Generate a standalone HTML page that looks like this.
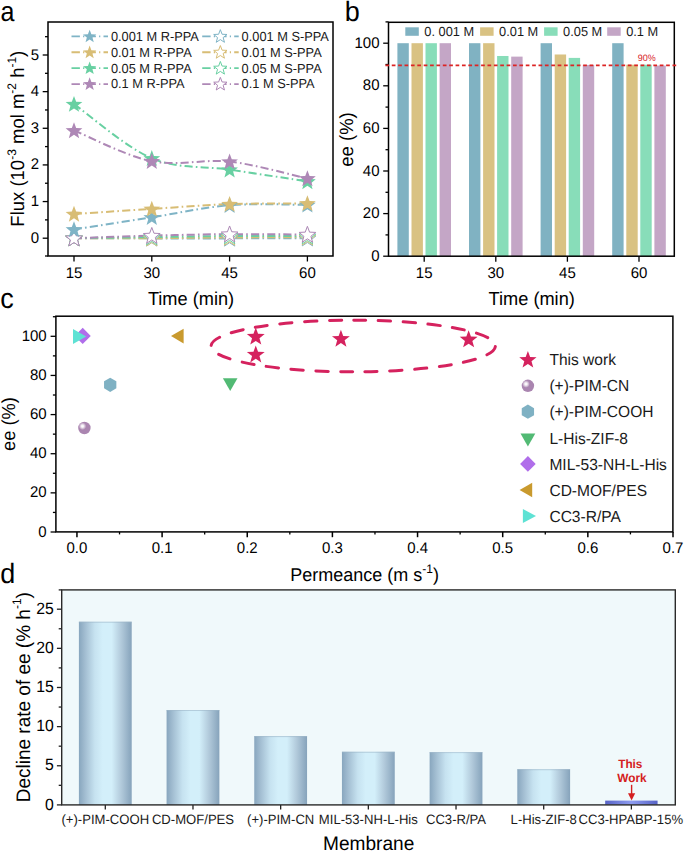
<!DOCTYPE html>
<html><head><meta charset="utf-8"><style>
html,body{margin:0;padding:0;background:#fff;overflow:hidden;}
svg{display:block;font-family:"Liberation Sans", sans-serif;}
text{text-rendering:geometricPrecision;}
</style></head><body>
<svg width="685" height="852" viewBox="0 0 685 852">
<defs>
<radialGradient id="hl" cx="0.5" cy="0.5" r="0.5"><stop offset="0" stop-color="#fff"/><stop offset="0.3" stop-color="#fff" stop-opacity="0.9"/><stop offset="1" stop-color="#fff" stop-opacity="0"/></radialGradient>
<radialGradient id="sph" cx="0.38" cy="0.33" r="0.7" fx="0.35" fy="0.3">
<stop offset="0" stop-color="#ffffff"/><stop offset="0.25" stop-color="#d4bfd8"/><stop offset="0.6" stop-color="#a885b0"/><stop offset="1" stop-color="#8a6a94"/></radialGradient>
<linearGradient id="barg" x1="0" y1="0" x2="1" y2="0">
<stop offset="0" stop-color="#88A6BE"/><stop offset="0.12" stop-color="#A3BED2"/><stop offset="0.3" stop-color="#C6E2F0"/><stop offset="0.45" stop-color="#D3EFFA"/><stop offset="0.62" stop-color="#D3EFFA"/><stop offset="0.8" stop-color="#B2CADB"/><stop offset="1" stop-color="#86A3BB"/></linearGradient>
<linearGradient id="barb" x1="0" y1="0" x2="1" y2="0">
<stop offset="0" stop-color="#5763C6"/><stop offset="0.5" stop-color="#8E9CF0"/><stop offset="1" stop-color="#5763C6"/></linearGradient>
</defs>
<rect width="685" height="852" fill="#fff"/>
<text transform="translate(0.40,21.10) scale(0.93,1.04)" font-size="27" text-anchor="start" fill="#000" >a</text>
<text transform="translate(344.70,21.10) scale(1.0,1.04)" font-size="27" text-anchor="start" fill="#000" >b</text>
<text transform="translate(0.20,308.20) scale(1.0,1.05)" font-size="27" text-anchor="start" fill="#000" >c</text>
<text transform="translate(0.20,583.40) scale(1.0,1.04)" font-size="27" text-anchor="start" fill="#000" >d</text>
<line x1="42.70" y1="238.20" x2="48.00" y2="238.20" stroke="#000" stroke-width="1.3" />
<text transform="translate(39.00,242.70) scale(1.0,1.03)" font-size="15" text-anchor="end" fill="#000" >0</text>
<line x1="42.70" y1="201.56" x2="48.00" y2="201.56" stroke="#000" stroke-width="1.3" />
<text transform="translate(39.00,206.06) scale(1.0,1.03)" font-size="15" text-anchor="end" fill="#000" >1</text>
<line x1="42.70" y1="164.92" x2="48.00" y2="164.92" stroke="#000" stroke-width="1.3" />
<text transform="translate(39.00,169.42) scale(1.0,1.03)" font-size="15" text-anchor="end" fill="#000" >2</text>
<line x1="42.70" y1="128.28" x2="48.00" y2="128.28" stroke="#000" stroke-width="1.3" />
<text transform="translate(39.00,132.78) scale(1.0,1.03)" font-size="15" text-anchor="end" fill="#000" >3</text>
<line x1="42.70" y1="91.64" x2="48.00" y2="91.64" stroke="#000" stroke-width="1.3" />
<text transform="translate(39.00,96.14) scale(1.0,1.03)" font-size="15" text-anchor="end" fill="#000" >4</text>
<line x1="42.70" y1="55.00" x2="48.00" y2="55.00" stroke="#000" stroke-width="1.3" />
<text transform="translate(39.00,59.50) scale(1.0,1.03)" font-size="15" text-anchor="end" fill="#000" >5</text>
<line x1="45.00" y1="256.00" x2="48.00" y2="256.00" stroke="#000" stroke-width="1.3" />
<line x1="45.00" y1="219.88" x2="48.00" y2="219.88" stroke="#000" stroke-width="1.3" />
<line x1="45.00" y1="183.24" x2="48.00" y2="183.24" stroke="#000" stroke-width="1.3" />
<line x1="45.00" y1="146.60" x2="48.00" y2="146.60" stroke="#000" stroke-width="1.3" />
<line x1="45.00" y1="109.96" x2="48.00" y2="109.96" stroke="#000" stroke-width="1.3" />
<line x1="45.00" y1="73.32" x2="48.00" y2="73.32" stroke="#000" stroke-width="1.3" />
<line x1="45.00" y1="36.68" x2="48.00" y2="36.68" stroke="#000" stroke-width="1.3" />
<line x1="74.00" y1="256.00" x2="74.00" y2="261.50" stroke="#000" stroke-width="1.3" />
<text transform="translate(74.00,277.50) scale(1.0,1.03)" font-size="15" text-anchor="middle" fill="#000" >15</text>
<line x1="151.80" y1="256.00" x2="151.80" y2="261.50" stroke="#000" stroke-width="1.3" />
<text transform="translate(151.80,277.50) scale(1.0,1.03)" font-size="15" text-anchor="middle" fill="#000" >30</text>
<line x1="229.60" y1="256.00" x2="229.60" y2="261.50" stroke="#000" stroke-width="1.3" />
<text transform="translate(229.60,277.50) scale(1.0,1.03)" font-size="15" text-anchor="middle" fill="#000" >45</text>
<line x1="307.40" y1="256.00" x2="307.40" y2="261.50" stroke="#000" stroke-width="1.3" />
<text transform="translate(307.40,277.50) scale(1.0,1.03)" font-size="15" text-anchor="middle" fill="#000" >60</text>
<path d="M74.00,238.20 C86.97,238.23 125.87,238.35 151.80,238.38 C177.73,238.41 203.67,238.41 229.60,238.38 C255.53,238.35 294.43,238.23 307.40,238.20" fill="none" stroke="#7FB4C6" stroke-width="2" stroke-dasharray="8.1 3.2 1.6 3.2"/>
<path d="M74.00,238.20 C86.97,238.20 125.87,238.32 151.80,238.20 C177.73,238.08 203.67,237.62 229.60,237.47 C255.53,237.31 294.43,237.31 307.40,237.28" fill="none" stroke="#D8BD75" stroke-width="2" stroke-dasharray="8.1 3.2 1.6 3.2"/>
<path d="M74.00,238.20 C86.97,238.02 125.87,237.47 151.80,237.10 C177.73,236.73 203.67,236.15 229.60,236.00 C255.53,235.85 294.43,236.15 307.40,236.18" fill="none" stroke="#68D0A2" stroke-width="2" stroke-dasharray="8.1 3.2 1.6 3.2"/>
<path d="M74.00,238.20 C86.97,237.77 125.87,236.31 151.80,235.64 C177.73,234.96 203.67,234.35 229.60,234.17 C255.53,233.99 294.43,234.47 307.40,234.54" fill="none" stroke="#AE88B6" stroke-width="2" stroke-dasharray="8.1 3.2 1.6 3.2"/>
<path d="M74.00,229.41 C86.97,227.39 125.87,221.35 151.80,217.32 C177.73,213.28 203.67,207.30 229.60,205.22 C255.53,203.15 294.43,204.92 307.40,204.86" fill="none" stroke="#7FB4C6" stroke-width="2" stroke-dasharray="8.1 3.2 1.6 3.2"/>
<path d="M74.00,214.02 C86.97,213.16 125.87,210.54 151.80,208.89 C177.73,207.24 203.67,205.04 229.60,204.12 C255.53,203.21 294.43,203.51 307.40,203.39" fill="none" stroke="#D8BD75" stroke-width="2" stroke-dasharray="8.1 3.2 1.6 3.2"/>
<path d="M74.00,104.10 C86.97,113.14 125.87,147.39 151.80,158.32 C177.73,169.26 203.67,165.84 229.60,169.68 C255.53,173.53 294.43,179.45 307.40,181.41" fill="none" stroke="#68D0A2" stroke-width="2" stroke-dasharray="8.1 3.2 1.6 3.2"/>
<path d="M74.00,130.48 C86.97,135.61 125.87,156.07 151.80,161.26 C177.73,166.45 203.67,158.75 229.60,161.62 C255.53,164.49 294.43,175.67 307.40,178.48" fill="none" stroke="#AE88B6" stroke-width="2" stroke-dasharray="8.1 3.2 1.6 3.2"/>
<polygon points="74.00,230.00 76.17,235.81 82.37,236.08 77.52,239.94 79.17,245.92 74.00,242.50 68.83,245.92 70.48,239.94 65.63,236.08 71.83,235.81" fill="#fff" stroke="#7FB4C6" stroke-width="1"/>
<polygon points="151.80,230.18 153.97,235.99 160.17,236.26 155.32,240.13 156.97,246.10 151.80,242.68 146.63,246.10 148.28,240.13 143.43,236.26 149.63,235.99" fill="#fff" stroke="#7FB4C6" stroke-width="1"/>
<polygon points="229.60,230.18 231.77,235.99 237.97,236.26 233.12,240.13 234.77,246.10 229.60,242.68 224.43,246.10 226.08,240.13 221.23,236.26 227.43,235.99" fill="#fff" stroke="#7FB4C6" stroke-width="1"/>
<polygon points="307.40,230.00 309.57,235.81 315.77,236.08 310.92,239.94 312.57,245.92 307.40,242.50 302.23,245.92 303.88,239.94 299.03,236.08 305.23,235.81" fill="#fff" stroke="#7FB4C6" stroke-width="1"/>
<polygon points="74.00,230.00 76.17,235.81 82.37,236.08 77.52,239.94 79.17,245.92 74.00,242.50 68.83,245.92 70.48,239.94 65.63,236.08 71.83,235.81" fill="#fff" stroke="#D8BD75" stroke-width="1"/>
<polygon points="151.80,230.00 153.97,235.81 160.17,236.08 155.32,239.94 156.97,245.92 151.80,242.50 146.63,245.92 148.28,239.94 143.43,236.08 149.63,235.81" fill="#fff" stroke="#D8BD75" stroke-width="1"/>
<polygon points="229.60,229.27 231.77,235.07 237.97,235.35 233.12,239.21 234.77,245.19 229.60,241.77 224.43,245.19 226.08,239.21 221.23,235.35 227.43,235.07" fill="#fff" stroke="#D8BD75" stroke-width="1"/>
<polygon points="307.40,229.08 309.57,234.89 315.77,235.16 310.92,239.03 312.57,245.00 307.40,241.58 302.23,245.00 303.88,239.03 299.03,235.16 305.23,234.89" fill="#fff" stroke="#D8BD75" stroke-width="1"/>
<polygon points="74.00,230.00 76.17,235.81 82.37,236.08 77.52,239.94 79.17,245.92 74.00,242.50 68.83,245.92 70.48,239.94 65.63,236.08 71.83,235.81" fill="#fff" stroke="#68D0A2" stroke-width="1"/>
<polygon points="151.80,228.90 153.97,234.71 160.17,234.98 155.32,238.84 156.97,244.82 151.80,241.40 146.63,244.82 148.28,238.84 143.43,234.98 149.63,234.71" fill="#fff" stroke="#68D0A2" stroke-width="1"/>
<polygon points="229.60,227.80 231.77,233.61 237.97,233.88 233.12,237.74 234.77,243.72 229.60,240.30 224.43,243.72 226.08,237.74 221.23,233.88 227.43,233.61" fill="#fff" stroke="#68D0A2" stroke-width="1"/>
<polygon points="307.40,227.98 309.57,233.79 315.77,234.07 310.92,237.93 312.57,243.90 307.40,240.48 302.23,243.90 303.88,237.93 299.03,234.07 305.23,233.79" fill="#fff" stroke="#68D0A2" stroke-width="1"/>
<polygon points="74.00,230.00 76.17,235.81 82.37,236.08 77.52,239.94 79.17,245.92 74.00,242.50 68.83,245.92 70.48,239.94 65.63,236.08 71.83,235.81" fill="#fff" stroke="#AE88B6" stroke-width="1"/>
<polygon points="151.80,227.44 153.97,233.24 160.17,233.52 155.32,237.38 156.97,243.35 151.80,239.94 146.63,243.35 148.28,237.38 143.43,233.52 149.63,233.24" fill="#fff" stroke="#AE88B6" stroke-width="1"/>
<polygon points="229.60,225.97 231.77,231.78 237.97,232.05 233.12,235.91 234.77,241.89 229.60,238.47 224.43,241.89 226.08,235.91 221.23,232.05 227.43,231.78" fill="#fff" stroke="#AE88B6" stroke-width="1"/>
<polygon points="307.40,226.34 309.57,232.14 315.77,232.42 310.92,236.28 312.57,242.26 307.40,238.84 302.23,242.26 303.88,236.28 299.03,232.42 305.23,232.14" fill="#fff" stroke="#AE88B6" stroke-width="1"/>
<polygon points="74.00,221.21 76.17,227.01 82.37,227.29 77.52,231.15 79.17,237.13 74.00,233.71 68.83,237.13 70.48,231.15 65.63,227.29 71.83,227.01" fill="#7FB4C6"/>
<polygon points="151.80,209.12 153.97,214.92 160.17,215.20 155.32,219.06 156.97,225.03 151.80,221.62 146.63,225.03 148.28,219.06 143.43,215.20 149.63,214.92" fill="#7FB4C6"/>
<polygon points="229.60,197.02 231.77,202.83 237.97,203.10 233.12,206.97 234.77,212.94 229.60,209.52 224.43,212.94 226.08,206.97 221.23,203.10 227.43,202.83" fill="#7FB4C6"/>
<polygon points="307.40,196.66 309.57,202.46 315.77,202.74 310.92,206.60 312.57,212.58 307.40,209.16 302.23,212.58 303.88,206.60 299.03,202.74 305.23,202.46" fill="#7FB4C6"/>
<polygon points="74.00,205.82 76.17,211.62 82.37,211.90 77.52,215.76 79.17,221.74 74.00,218.32 68.83,221.74 70.48,215.76 65.63,211.90 71.83,211.62" fill="#D8BD75"/>
<polygon points="151.80,200.69 153.97,206.49 160.17,206.77 155.32,210.63 156.97,216.61 151.80,213.19 146.63,216.61 148.28,210.63 143.43,206.77 149.63,206.49" fill="#D8BD75"/>
<polygon points="229.60,195.92 231.77,201.73 237.97,202.01 233.12,205.87 234.77,211.84 229.60,208.42 224.43,211.84 226.08,205.87 221.23,202.01 227.43,201.73" fill="#D8BD75"/>
<polygon points="307.40,195.19 309.57,201.00 315.77,201.27 310.92,205.14 312.57,211.11 307.40,207.69 302.23,211.11 303.88,205.14 299.03,201.27 305.23,201.00" fill="#D8BD75"/>
<polygon points="74.00,95.90 76.17,101.70 82.37,101.98 77.52,105.84 79.17,111.82 74.00,108.40 68.83,111.82 70.48,105.84 65.63,101.98 71.83,101.70" fill="#68D0A2"/>
<polygon points="151.80,150.12 153.97,155.93 160.17,156.21 155.32,160.07 156.97,166.04 151.80,162.62 146.63,166.04 148.28,160.07 143.43,156.21 149.63,155.93" fill="#68D0A2"/>
<polygon points="229.60,161.48 231.77,167.29 237.97,167.56 233.12,171.43 234.77,177.40 229.60,173.98 224.43,177.40 226.08,171.43 221.23,167.56 227.43,167.29" fill="#68D0A2"/>
<polygon points="307.40,173.21 309.57,179.01 315.77,179.29 310.92,183.15 312.57,189.13 307.40,185.71 302.23,189.13 303.88,183.15 299.03,179.29 305.23,179.01" fill="#68D0A2"/>
<polygon points="74.00,122.28 76.17,128.09 82.37,128.36 77.52,132.22 79.17,138.20 74.00,134.78 68.83,138.20 70.48,132.22 65.63,128.36 71.83,128.09" fill="#AE88B6"/>
<polygon points="151.80,153.06 153.97,158.86 160.17,159.14 155.32,163.00 156.97,168.98 151.80,165.56 146.63,168.98 148.28,163.00 143.43,159.14 149.63,158.86" fill="#AE88B6"/>
<polygon points="229.60,153.42 231.77,159.23 237.97,159.50 233.12,163.37 234.77,169.34 229.60,165.92 224.43,169.34 226.08,163.37 221.23,159.50 227.43,159.23" fill="#AE88B6"/>
<polygon points="307.40,170.28 309.57,176.08 315.77,176.36 310.92,180.22 312.57,186.20 307.40,182.78 302.23,186.20 303.88,180.22 299.03,176.36 305.23,176.08" fill="#AE88B6"/>
<line x1="71.50" y1="36.35" x2="108.00" y2="36.35" stroke="#7FB4C6" stroke-width="1.8" stroke-dasharray="8.4 3.2 1.2 3.2"/>
<polygon points="89.65,29.65 91.38,34.26 96.31,34.49 92.46,37.56 93.76,42.31 89.65,39.60 85.54,42.31 86.84,37.56 82.99,34.49 87.92,34.26" fill="#7FB4C6"/>
<text transform="translate(110.90,40.70) scale(1.0,1.03)" font-size="12.8" text-anchor="start" fill="#1a1a1a" >0.001 M R-PPA</text>
<line x1="202.20" y1="36.35" x2="238.70" y2="36.35" stroke="#7FB4C6" stroke-width="1.8" stroke-dasharray="8.4 3.2 1.2 3.2"/>
<polygon points="220.35,29.65 222.08,34.26 227.01,34.49 223.16,37.56 224.46,42.31 220.35,39.60 216.24,42.31 217.54,37.56 213.69,34.49 218.62,34.26" fill="#fff" stroke="#7FB4C6" stroke-width="1"/>
<text transform="translate(241.60,40.70) scale(1.0,1.03)" font-size="12.8" text-anchor="start" fill="#1a1a1a" >0.001 M S-PPA</text>
<line x1="71.50" y1="52.25" x2="108.00" y2="52.25" stroke="#D8BD75" stroke-width="1.8" stroke-dasharray="8.4 3.2 1.2 3.2"/>
<polygon points="89.65,45.55 91.38,50.16 96.31,50.39 92.46,53.46 93.76,58.21 89.65,55.50 85.54,58.21 86.84,53.46 82.99,50.39 87.92,50.16" fill="#D8BD75"/>
<text transform="translate(110.90,56.60) scale(1.0,1.03)" font-size="12.8" text-anchor="start" fill="#1a1a1a" >0.01 M R-PPA</text>
<line x1="202.20" y1="52.25" x2="238.70" y2="52.25" stroke="#D8BD75" stroke-width="1.8" stroke-dasharray="8.4 3.2 1.2 3.2"/>
<polygon points="220.35,45.55 222.08,50.16 227.01,50.39 223.16,53.46 224.46,58.21 220.35,55.50 216.24,58.21 217.54,53.46 213.69,50.39 218.62,50.16" fill="#fff" stroke="#D8BD75" stroke-width="1"/>
<text transform="translate(241.60,56.60) scale(1.0,1.03)" font-size="12.8" text-anchor="start" fill="#1a1a1a" >0.01 M S-PPA</text>
<line x1="71.50" y1="68.15" x2="108.00" y2="68.15" stroke="#68D0A2" stroke-width="1.8" stroke-dasharray="8.4 3.2 1.2 3.2"/>
<polygon points="89.65,61.45 91.38,66.06 96.31,66.29 92.46,69.36 93.76,74.11 89.65,71.40 85.54,74.11 86.84,69.36 82.99,66.29 87.92,66.06" fill="#68D0A2"/>
<text transform="translate(110.90,72.50) scale(1.0,1.03)" font-size="12.8" text-anchor="start" fill="#1a1a1a" >0.05 M R-PPA</text>
<line x1="202.20" y1="68.15" x2="238.70" y2="68.15" stroke="#68D0A2" stroke-width="1.8" stroke-dasharray="8.4 3.2 1.2 3.2"/>
<polygon points="220.35,61.45 222.08,66.06 227.01,66.29 223.16,69.36 224.46,74.11 220.35,71.40 216.24,74.11 217.54,69.36 213.69,66.29 218.62,66.06" fill="#fff" stroke="#68D0A2" stroke-width="1"/>
<text transform="translate(241.60,72.50) scale(1.0,1.03)" font-size="12.8" text-anchor="start" fill="#1a1a1a" >0.05 M S-PPA</text>
<line x1="71.50" y1="84.05" x2="108.00" y2="84.05" stroke="#AE88B6" stroke-width="1.8" stroke-dasharray="8.4 3.2 1.2 3.2"/>
<polygon points="89.65,77.35 91.38,81.96 96.31,82.19 92.46,85.26 93.76,90.01 89.65,87.30 85.54,90.01 86.84,85.26 82.99,82.19 87.92,81.96" fill="#AE88B6"/>
<text transform="translate(110.90,88.40) scale(1.0,1.03)" font-size="12.8" text-anchor="start" fill="#1a1a1a" >0.1 M R-PPA</text>
<line x1="202.20" y1="84.05" x2="238.70" y2="84.05" stroke="#AE88B6" stroke-width="1.8" stroke-dasharray="8.4 3.2 1.2 3.2"/>
<polygon points="220.35,77.35 222.08,81.96 227.01,82.19 223.16,85.26 224.46,90.01 220.35,87.30 216.24,90.01 217.54,85.26 213.69,82.19 218.62,81.96" fill="#fff" stroke="#AE88B6" stroke-width="1"/>
<text transform="translate(241.60,88.40) scale(1.0,1.03)" font-size="12.8" text-anchor="start" fill="#1a1a1a" >0.1 M S-PPA</text>
<rect x="48" y="22" width="285" height="234" fill="none" stroke="#000" stroke-width="1.5"/>
<text transform="translate(191.00,305.00) scale(1.0,1.03)" font-size="18.2" text-anchor="middle" fill="#000" >Time (min)</text>
<text transform="translate(24.4,138.7) rotate(-90) scale(1,1.03)" font-size="18.5" text-anchor="middle">Flux (10<tspan dy="-7.8" font-size="12">-3</tspan><tspan dy="7.8"> mol m</tspan><tspan dy="-7.8" font-size="12">-2</tspan><tspan dy="7.8"> h</tspan><tspan dy="-7.8" font-size="12">-1</tspan><tspan dy="7.8">)</tspan></text>
<rect x="397.40" y="43.20" width="11.4" height="213.00" fill="#80B2C2"/>
<rect x="411.50" y="43.20" width="11.4" height="213.00" fill="#D9C283"/>
<rect x="425.50" y="43.20" width="11.4" height="213.00" fill="#88DDB9"/>
<rect x="439.60" y="43.20" width="11.4" height="213.00" fill="#C4A6C6"/>
<rect x="469.00" y="43.20" width="11.4" height="213.00" fill="#80B2C2"/>
<rect x="483.10" y="43.20" width="11.4" height="213.00" fill="#D9C283"/>
<rect x="497.10" y="55.98" width="11.4" height="200.22" fill="#88DDB9"/>
<rect x="511.20" y="56.62" width="11.4" height="199.58" fill="#C4A6C6"/>
<rect x="540.60" y="43.20" width="11.4" height="213.00" fill="#80B2C2"/>
<rect x="554.70" y="54.49" width="11.4" height="201.71" fill="#D9C283"/>
<rect x="568.70" y="57.90" width="11.4" height="198.30" fill="#88DDB9"/>
<rect x="582.80" y="64.93" width="11.4" height="191.27" fill="#C4A6C6"/>
<rect x="612.20" y="43.20" width="11.4" height="213.00" fill="#80B2C2"/>
<rect x="626.30" y="64.71" width="11.4" height="191.49" fill="#D9C283"/>
<rect x="640.30" y="64.71" width="11.4" height="191.49" fill="#88DDB9"/>
<rect x="654.40" y="65.56" width="11.4" height="190.63" fill="#C4A6C6"/>
<line x1="383.20" y1="256.20" x2="388.50" y2="256.20" stroke="#000" stroke-width="1.3" />
<text transform="translate(379.50,260.70) scale(1.0,1.03)" font-size="15" text-anchor="end" fill="#000" >0</text>
<line x1="383.20" y1="213.60" x2="388.50" y2="213.60" stroke="#000" stroke-width="1.3" />
<text transform="translate(379.50,218.10) scale(1.0,1.03)" font-size="15" text-anchor="end" fill="#000" >20</text>
<line x1="383.20" y1="171.00" x2="388.50" y2="171.00" stroke="#000" stroke-width="1.3" />
<text transform="translate(379.50,175.50) scale(1.0,1.03)" font-size="15" text-anchor="end" fill="#000" >40</text>
<line x1="383.20" y1="128.40" x2="388.50" y2="128.40" stroke="#000" stroke-width="1.3" />
<text transform="translate(379.50,132.90) scale(1.0,1.03)" font-size="15" text-anchor="end" fill="#000" >60</text>
<line x1="383.20" y1="85.80" x2="388.50" y2="85.80" stroke="#000" stroke-width="1.3" />
<text transform="translate(379.50,90.30) scale(1.0,1.03)" font-size="15" text-anchor="end" fill="#000" >80</text>
<line x1="383.20" y1="43.20" x2="388.50" y2="43.20" stroke="#000" stroke-width="1.3" />
<text transform="translate(379.50,47.70) scale(1.0,1.03)" font-size="15" text-anchor="end" fill="#000" >100</text>
<line x1="385.50" y1="234.90" x2="388.50" y2="234.90" stroke="#000" stroke-width="1.3" />
<line x1="385.50" y1="192.30" x2="388.50" y2="192.30" stroke="#000" stroke-width="1.3" />
<line x1="385.50" y1="149.70" x2="388.50" y2="149.70" stroke="#000" stroke-width="1.3" />
<line x1="385.50" y1="107.10" x2="388.50" y2="107.10" stroke="#000" stroke-width="1.3" />
<line x1="385.50" y1="64.50" x2="388.50" y2="64.50" stroke="#000" stroke-width="1.3" />
<line x1="385.50" y1="21.90" x2="388.50" y2="21.90" stroke="#000" stroke-width="1.3" />
<line x1="424.20" y1="256.20" x2="424.20" y2="261.70" stroke="#000" stroke-width="1.3" />
<text transform="translate(424.20,277.50) scale(1.0,1.03)" font-size="15" text-anchor="middle" fill="#000" >15</text>
<line x1="495.80" y1="256.20" x2="495.80" y2="261.70" stroke="#000" stroke-width="1.3" />
<text transform="translate(495.80,277.50) scale(1.0,1.03)" font-size="15" text-anchor="middle" fill="#000" >30</text>
<line x1="567.40" y1="256.20" x2="567.40" y2="261.70" stroke="#000" stroke-width="1.3" />
<text transform="translate(567.40,277.50) scale(1.0,1.03)" font-size="15" text-anchor="middle" fill="#000" >45</text>
<line x1="639.00" y1="256.20" x2="639.00" y2="261.70" stroke="#000" stroke-width="1.3" />
<text transform="translate(639.00,277.50) scale(1.0,1.03)" font-size="15" text-anchor="middle" fill="#000" >60</text>
<rect x="405.3" y="27.3" width="13.5" height="8.5" fill="#80B2C2"/>
<text transform="translate(424.30,35.70) scale(1.0,1.03)" font-size="12.8" text-anchor="start" fill="#1a1a1a" >0. 001 M</text>
<rect x="480.1" y="27.3" width="13.5" height="8.5" fill="#D9C283"/>
<text transform="translate(499.10,35.70) scale(1.0,1.03)" font-size="12.8" text-anchor="start" fill="#1a1a1a" >0.01 M</text>
<rect x="544.1" y="27.3" width="13.5" height="8.5" fill="#88DDB9"/>
<text transform="translate(563.10,35.70) scale(1.0,1.03)" font-size="12.8" text-anchor="start" fill="#1a1a1a" >0.05 M</text>
<rect x="607.2" y="27.3" width="13.5" height="8.5" fill="#C4A6C6"/>
<text transform="translate(626.20,35.70) scale(1.0,1.03)" font-size="12.8" text-anchor="start" fill="#1a1a1a" >0.1 M</text>
<text transform="translate(646.80,61.20) scale(1.0,1.03)" font-size="9" text-anchor="middle" fill="#D8262A" >90%</text>
<rect x="388.5" y="22.3" width="285.79999999999995" height="233.89999999999998" fill="none" stroke="#000" stroke-width="1.5"/>
<line x1="385.4" y1="65.4" x2="676.6" y2="65.4" stroke="#DC2424" stroke-width="1.6" stroke-dasharray="3.7 2.68"/>
<text transform="translate(531.70,305.00) scale(1.0,1.03)" font-size="18.2" text-anchor="middle" fill="#000" >Time (min)</text>
<text transform="translate(353.0,139.5) rotate(-90) scale(1,1.03)" font-size="18.5" text-anchor="middle">ee (%)</text>
<line x1="50.60" y1="532.00" x2="55.90" y2="532.00" stroke="#000" stroke-width="1.3" />
<text transform="translate(46.70,536.50) scale(1.0,1.03)" font-size="15" text-anchor="end" fill="#000" >0</text>
<line x1="50.60" y1="492.86" x2="55.90" y2="492.86" stroke="#000" stroke-width="1.3" />
<text transform="translate(46.70,497.36) scale(1.0,1.03)" font-size="15" text-anchor="end" fill="#000" >20</text>
<line x1="50.60" y1="453.72" x2="55.90" y2="453.72" stroke="#000" stroke-width="1.3" />
<text transform="translate(46.70,458.22) scale(1.0,1.03)" font-size="15" text-anchor="end" fill="#000" >40</text>
<line x1="50.60" y1="414.58" x2="55.90" y2="414.58" stroke="#000" stroke-width="1.3" />
<text transform="translate(46.70,419.08) scale(1.0,1.03)" font-size="15" text-anchor="end" fill="#000" >60</text>
<line x1="50.60" y1="375.44" x2="55.90" y2="375.44" stroke="#000" stroke-width="1.3" />
<text transform="translate(46.70,379.94) scale(1.0,1.03)" font-size="15" text-anchor="end" fill="#000" >80</text>
<line x1="50.60" y1="336.30" x2="55.90" y2="336.30" stroke="#000" stroke-width="1.3" />
<text transform="translate(46.70,340.80) scale(1.0,1.03)" font-size="15" text-anchor="end" fill="#000" >100</text>
<line x1="52.90" y1="512.43" x2="55.90" y2="512.43" stroke="#000" stroke-width="1.3" />
<line x1="52.90" y1="473.29" x2="55.90" y2="473.29" stroke="#000" stroke-width="1.3" />
<line x1="52.90" y1="434.15" x2="55.90" y2="434.15" stroke="#000" stroke-width="1.3" />
<line x1="52.90" y1="395.01" x2="55.90" y2="395.01" stroke="#000" stroke-width="1.3" />
<line x1="52.90" y1="355.87" x2="55.90" y2="355.87" stroke="#000" stroke-width="1.3" />
<line x1="52.90" y1="316.73" x2="55.90" y2="316.73" stroke="#000" stroke-width="1.3" />
<line x1="76.95" y1="531.90" x2="76.95" y2="537.20" stroke="#000" stroke-width="1.5" />
<text transform="translate(76.95,552.80) scale(1.0,1.03)" font-size="15" text-anchor="middle" fill="#000" >0.0</text>
<line x1="162.10" y1="531.90" x2="162.10" y2="537.20" stroke="#000" stroke-width="1.5" />
<text transform="translate(162.10,552.80) scale(1.0,1.03)" font-size="15" text-anchor="middle" fill="#000" >0.1</text>
<line x1="247.25" y1="531.90" x2="247.25" y2="537.20" stroke="#000" stroke-width="1.5" />
<text transform="translate(247.25,552.80) scale(1.0,1.03)" font-size="15" text-anchor="middle" fill="#000" >0.2</text>
<line x1="332.40" y1="531.90" x2="332.40" y2="537.20" stroke="#000" stroke-width="1.5" />
<text transform="translate(332.40,552.80) scale(1.0,1.03)" font-size="15" text-anchor="middle" fill="#000" >0.3</text>
<line x1="417.55" y1="531.90" x2="417.55" y2="537.20" stroke="#000" stroke-width="1.5" />
<text transform="translate(417.55,552.80) scale(1.0,1.03)" font-size="15" text-anchor="middle" fill="#000" >0.4</text>
<line x1="502.70" y1="531.90" x2="502.70" y2="537.20" stroke="#000" stroke-width="1.5" />
<text transform="translate(502.70,552.80) scale(1.0,1.03)" font-size="15" text-anchor="middle" fill="#000" >0.5</text>
<line x1="587.85" y1="531.90" x2="587.85" y2="537.20" stroke="#000" stroke-width="1.5" />
<text transform="translate(587.85,552.80) scale(1.0,1.03)" font-size="15" text-anchor="middle" fill="#000" >0.6</text>
<line x1="673.00" y1="531.90" x2="673.00" y2="537.20" stroke="#000" stroke-width="1.5" />
<text transform="translate(673.00,552.80) scale(1.0,1.03)" font-size="15" text-anchor="middle" fill="#000" >0.7</text>
<line x1="119.53" y1="531.90" x2="119.53" y2="534.40" stroke="#000" stroke-width="1.3" />
<line x1="204.68" y1="531.90" x2="204.68" y2="534.40" stroke="#000" stroke-width="1.3" />
<line x1="289.82" y1="531.90" x2="289.82" y2="534.40" stroke="#000" stroke-width="1.3" />
<line x1="374.97" y1="531.90" x2="374.97" y2="534.40" stroke="#000" stroke-width="1.3" />
<line x1="460.12" y1="531.90" x2="460.12" y2="534.40" stroke="#000" stroke-width="1.3" />
<line x1="545.28" y1="531.90" x2="545.28" y2="534.40" stroke="#000" stroke-width="1.3" />
<line x1="630.43" y1="531.90" x2="630.43" y2="534.40" stroke="#000" stroke-width="1.3" />
<path d="M353.25,320.2 A142.25,25.8 0 0 1 353.25,371.8 A142.25,25.8 0 0 1 353.25,320.2" fill="none" stroke="#D5225E" stroke-width="3.0" stroke-dasharray="12.2 12.5" stroke-dashoffset="-0.55" stroke-linecap="round"/>
<polygon points="255.76,327.60 258.06,333.84 264.70,334.10 259.47,338.21 261.29,344.60 255.76,340.90 250.24,344.60 252.06,338.21 246.83,334.10 253.47,333.84" fill="#D5225E"/>
<polygon points="255.76,345.41 258.06,351.65 264.70,351.90 259.47,356.01 261.29,362.41 255.76,358.71 250.24,362.41 252.06,356.01 246.83,351.90 253.47,351.65" fill="#D5225E"/>
<polygon points="340.91,329.75 343.21,336.00 349.85,336.25 344.62,340.36 346.44,346.76 340.91,343.05 335.39,346.76 337.21,340.36 331.98,336.25 338.62,336.00" fill="#D5225E"/>
<polygon points="468.64,330.34 470.93,336.58 477.58,336.84 472.35,340.94 474.17,347.34 468.64,343.64 463.11,347.34 464.93,340.94 459.70,336.84 466.35,336.58" fill="#D5225E"/>
<polygon points="82.70,327.85 90.75,335.90 82.70,343.95 74.65,335.90" fill="#B06EEA"/>
<polygon points="73.00,328.90 86.20,336.40 73.00,343.90" fill="#5EE2D4"/>
<polygon points="183.60,328.70 171.00,336.10 183.60,343.50" fill="#C99A2E"/>
<polygon points="110.20,377.70 116.35,381.25 116.35,388.35 110.20,391.90 104.05,388.35 104.05,381.25" fill="#7FB1C3"/>
<polygon points="222.90,378.30 237.50,378.30 230.20,391.10" fill="#52BA74"/>
<circle cx="84.40" cy="428.00" r="6.2" fill="#AA85B0"/>
<circle cx="82.50" cy="426.20" r="3.8" fill="url(#hl)"/>
<polygon points="527.90,351.00 530.13,357.03 536.55,357.29 531.51,361.27 533.25,367.46 527.90,363.90 522.55,367.46 524.29,361.27 519.25,357.29 525.67,357.03" fill="#D5225E"/>
<circle cx="527.90" cy="385.80" r="6.2" fill="#AA85B0"/>
<circle cx="526.00" cy="384.00" r="3.8" fill="url(#hl)"/>
<polygon points="527.90,404.60 534.05,408.15 534.05,415.25 527.90,418.80 521.75,415.25 521.75,408.15" fill="#7FB1C3"/>
<polygon points="520.50,433.50 535.30,433.50 527.90,446.40" fill="#52BA74"/>
<polygon points="527.90,456.10 535.70,463.90 527.90,471.70 520.10,463.90" fill="#B06EEA"/>
<polygon points="532.20,482.80 519.60,490.00 532.20,497.20" fill="#C99A2E"/>
<polygon points="522.90,509.10 536.00,516.10 522.90,523.10" fill="#5EE2D4"/>
<text transform="translate(549.40,365.20) scale(1.0,1.03)" font-size="15.55" text-anchor="start" fill="#1a1a1a" >This work</text>
<text transform="translate(549.40,391.30) scale(1.0,1.03)" font-size="15.55" text-anchor="start" fill="#1a1a1a" >(+)-PIM-CN</text>
<text transform="translate(549.40,417.40) scale(1.0,1.03)" font-size="15.55" text-anchor="start" fill="#1a1a1a" >(+)-PIM-COOH</text>
<text transform="translate(549.40,443.50) scale(1.0,1.03)" font-size="15.55" text-anchor="start" fill="#1a1a1a" >L-His-ZIF-8</text>
<text transform="translate(549.40,469.60) scale(1.0,1.03)" font-size="15.55" text-anchor="start" fill="#1a1a1a" >MIL-53-NH-L-His</text>
<text transform="translate(549.40,495.70) scale(1.0,1.03)" font-size="15.55" text-anchor="start" fill="#1a1a1a" >CD-MOF/PES</text>
<text transform="translate(549.40,521.80) scale(1.0,1.03)" font-size="15.55" text-anchor="start" fill="#1a1a1a" >CC3-R/PA</text>
<rect x="55.9" y="316.2" width="617.0" height="215.7" fill="none" stroke="#000" stroke-width="1.5"/>
<text transform="translate(364.6,580.5) scale(1,1.03)" font-size="18" text-anchor="middle">Permeance (m s<tspan dy="-7" font-size="12">-1</tspan><tspan dy="7">)</tspan></text>
<text transform="translate(15.0,424.1) rotate(-90) scale(1,1.03)" font-size="18.3" text-anchor="middle">ee (%)</text>
<rect x="61.7" y="589.9" width="613.5999999999999" height="215.0" fill="#F0F9FB"/>
<rect x="78.90" y="621.72" width="52.8" height="183.18" fill="url(#barg)"/>
<line x1="78.90" y1="622.22" x2="131.70" y2="622.22" stroke="#9DB6C8" stroke-width="1" stroke-opacity="0.6"/>
<rect x="166.58" y="710.02" width="52.8" height="94.88" fill="url(#barg)"/>
<line x1="166.58" y1="710.52" x2="219.38" y2="710.52" stroke="#9DB6C8" stroke-width="1" stroke-opacity="0.6"/>
<rect x="254.26" y="736.09" width="52.8" height="68.81" fill="url(#barg)"/>
<line x1="254.26" y1="736.59" x2="307.06" y2="736.59" stroke="#9DB6C8" stroke-width="1" stroke-opacity="0.6"/>
<rect x="341.94" y="751.75" width="52.8" height="53.15" fill="url(#barg)"/>
<line x1="341.94" y1="752.25" x2="394.74" y2="752.25" stroke="#9DB6C8" stroke-width="1" stroke-opacity="0.6"/>
<rect x="429.62" y="752.14" width="52.8" height="52.76" fill="url(#barg)"/>
<line x1="429.62" y1="752.64" x2="482.42" y2="752.64" stroke="#9DB6C8" stroke-width="1" stroke-opacity="0.6"/>
<rect x="517.30" y="769.20" width="52.8" height="35.70" fill="url(#barg)"/>
<line x1="517.30" y1="769.70" x2="570.10" y2="769.70" stroke="#9DB6C8" stroke-width="1" stroke-opacity="0.6"/>
<rect x="605.18" y="800.6" width="52.4" height="4.1" fill="url(#barb)"/>
<line x1="105.30" y1="804.90" x2="105.30" y2="809.50" stroke="#222" stroke-width="1.3" />
<text transform="translate(105.30,823.50) scale(1.0,1.03)" font-size="13.1" text-anchor="middle" fill="#1a1a1a" >(+)-PIM-COOH</text>
<line x1="192.98" y1="804.90" x2="192.98" y2="809.50" stroke="#222" stroke-width="1.3" />
<text transform="translate(192.98,823.50) scale(1.0,1.03)" font-size="13.1" text-anchor="middle" fill="#1a1a1a" >CD-MOF/PES</text>
<line x1="280.66" y1="804.90" x2="280.66" y2="809.50" stroke="#222" stroke-width="1.3" />
<text transform="translate(280.66,823.50) scale(1.0,1.03)" font-size="13.1" text-anchor="middle" fill="#1a1a1a" >(+)-PIM-CN</text>
<line x1="368.34" y1="804.90" x2="368.34" y2="809.50" stroke="#222" stroke-width="1.3" />
<text transform="translate(368.34,823.50) scale(1.0,1.03)" font-size="13.1" text-anchor="middle" fill="#1a1a1a" >MIL-53-NH-L-His</text>
<line x1="456.02" y1="804.90" x2="456.02" y2="809.50" stroke="#222" stroke-width="1.3" />
<text transform="translate(456.02,823.50) scale(1.0,1.03)" font-size="13.1" text-anchor="middle" fill="#1a1a1a" >CC3-R/PA</text>
<line x1="543.70" y1="804.90" x2="543.70" y2="809.50" stroke="#222" stroke-width="1.3" />
<text transform="translate(543.70,823.50) scale(1.0,1.03)" font-size="13.1" text-anchor="middle" fill="#1a1a1a" >L-His-ZIF-8</text>
<line x1="631.38" y1="804.90" x2="631.38" y2="809.50" stroke="#222" stroke-width="1.3" />
<text transform="translate(630.78,823.50) scale(1.0,1.03)" font-size="13.1" text-anchor="middle" fill="#1a1a1a" >CC3-HPABP-15%</text>
<line x1="56.90" y1="804.90" x2="61.70" y2="804.90" stroke="#222" stroke-width="1.3" />
<text transform="translate(53.80,809.60) scale(1.0,1.03)" font-size="15.8" text-anchor="end" fill="#000" >0</text>
<line x1="56.90" y1="765.76" x2="61.70" y2="765.76" stroke="#222" stroke-width="1.3" />
<text transform="translate(53.80,770.46) scale(1.0,1.03)" font-size="15.8" text-anchor="end" fill="#000" >5</text>
<line x1="56.90" y1="726.62" x2="61.70" y2="726.62" stroke="#222" stroke-width="1.3" />
<text transform="translate(53.80,731.32) scale(1.0,1.03)" font-size="15.8" text-anchor="end" fill="#000" >10</text>
<line x1="56.90" y1="687.48" x2="61.70" y2="687.48" stroke="#222" stroke-width="1.3" />
<text transform="translate(53.80,692.18) scale(1.0,1.03)" font-size="15.8" text-anchor="end" fill="#000" >15</text>
<line x1="56.90" y1="648.34" x2="61.70" y2="648.34" stroke="#222" stroke-width="1.3" />
<text transform="translate(53.80,653.04) scale(1.0,1.03)" font-size="15.8" text-anchor="end" fill="#000" >20</text>
<line x1="56.90" y1="609.20" x2="61.70" y2="609.20" stroke="#222" stroke-width="1.3" />
<text transform="translate(53.80,613.90) scale(1.0,1.03)" font-size="15.8" text-anchor="end" fill="#000" >25</text>
<line x1="58.70" y1="785.33" x2="61.70" y2="785.33" stroke="#222" stroke-width="1.3" />
<line x1="58.70" y1="746.19" x2="61.70" y2="746.19" stroke="#222" stroke-width="1.3" />
<line x1="58.70" y1="707.05" x2="61.70" y2="707.05" stroke="#222" stroke-width="1.3" />
<line x1="58.70" y1="667.91" x2="61.70" y2="667.91" stroke="#222" stroke-width="1.3" />
<line x1="58.70" y1="628.77" x2="61.70" y2="628.77" stroke="#222" stroke-width="1.3" />
<line x1="58.70" y1="589.90" x2="61.70" y2="589.90" stroke="#222" stroke-width="1.3" />
<rect x="61.7" y="589.9" width="613.5999999999999" height="215.0" fill="none" stroke="#2a2a2a" stroke-width="1.4"/>
<text transform="translate(630.30,768.20) scale(1.0,1.03)" font-size="11.8" text-anchor="middle" fill="#D42020" font-weight="bold">This</text>
<text transform="translate(631.90,782.40) scale(1.0,1.03)" font-size="11.8" text-anchor="middle" fill="#D42020" font-weight="bold">Work</text>
<line x1="631.60" y1="784.80" x2="631.60" y2="796.00" stroke="#D42020" stroke-width="1.4" />
<polygon points="628,793.3 635.2,793.3 631.6,800.6" fill="#D42020"/>
<text transform="translate(368.65,849.70) scale(1.0,1.03)" font-size="19.1" text-anchor="middle" fill="#000" >Membrane</text>
<text transform="translate(29.9,697.2) rotate(-90) scale(1,1.03)" font-size="19" text-anchor="middle">Decline rate of ee (% h<tspan dy="-9" font-size="12">-1</tspan><tspan dy="9">)</tspan></text>
</svg>
</body></html>
